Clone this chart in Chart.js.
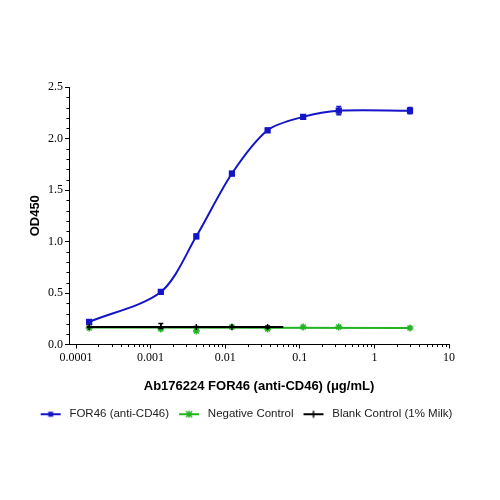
<!DOCTYPE html>
<html>
<head>
<meta charset="utf-8">
<script src="https://cdn.jsdelivr.net/npm/chart.js@4"></script>
<style>
  body { margin: 0; background: #fff; }
  #wrap { width: 500px; height: 500px; }
</style>
</head>
<body>
<div id="wrap"><canvas id="odChart"></canvas></div>
<script>
// Values
const conc = [0.00015, 0.00137, 0.0041, 0.0123, 0.037, 0.111, 0.333, 3];
const for46 = [0.22, 0.51, 1.05, 1.66, 2.08, 2.21, 2.27, 2.27];
const for46Err = [0.01, 0.01, 0.02, 0.02, 0.02, 0.02, 0.04, 0.03];
const negCtrl = [0.16, 0.15, 0.13, 0.17, 0.15, 0.17, 0.17, 0.16];
const negFitConc = [0.00015, 3];
const negFit = [0.165, 0.16];
const blankConc = [0.00015, 0.00137, 0.0041, 0.0123, 0.037];
const blankCtrl = [0.17, 0.18, 0.17, 0.17, 0.17];
const blankErr = [0.005, 0.025, 0.005, 0.005, 0.01];
const blankFitConc = [0.00015, 0.06];
const blankFit = [0.17, 0.17];
const xTicks = [0.0001, 0.001, 0.01, 0.1, 1, 10];
const yTicks = [0, 0.5, 1.0, 1.5, 2.0, 2.5];

const BLUE = '#1414c8';
const GREEN = '#22b422';
const BLACK = '#000000';

const pts = (xs, ys) => xs.map((x, i) => ({ x: x, y: ys[i] }));

// legend swatch: short line with marker in the middle
function swatch(color, style) {
    const c = document.createElement('canvas');
    c.width = 22; c.height = 10;
    const g = c.getContext('2d');
    g.strokeStyle = color; g.fillStyle = color; g.lineWidth = 2;
    g.beginPath(); g.moveTo(1, 5); g.lineTo(21, 5); g.stroke();
    g.lineWidth = 1.5;
    if (style === 'rect') {
        g.fillRect(8.5, 2.5, 5, 5);
    } else if (style === 'star') {
        g.beginPath();
        g.moveTo(8, 2); g.lineTo(14, 8); g.moveTo(14, 2); g.lineTo(8, 8);
        g.moveTo(11, 1.5); g.lineTo(11, 8.5);
        g.stroke();
    } else {
        g.beginPath(); g.moveTo(11, 1.5); g.lineTo(11, 8.5); g.stroke();
    }
    return c;
}

// short minor ticks on both axes
const minorTicks = {
    id: 'minorTicks',
    afterDraw(chart) {
        const ctx = chart.ctx;
        const x = chart.scales.x, y = chart.scales.y;
        ctx.save();
        ctx.strokeStyle = '#000';
        ctx.lineWidth = 1;
        ctx.beginPath();
        for (let d = -4; d < 1; d++) {
            for (let m = 2; m < 10; m++) {
                const px = Math.round(x.getPixelForValue(m * Math.pow(10, d))) + 0.5;
                ctx.moveTo(px, x.top); ctx.lineTo(px, x.top + 2.5);
            }
        }
        for (let k = 1; k < 25; k++) {
            if (k % 5 === 0) continue;
            const py = Math.round(y.getPixelForValue(k / 10)) + 0.5;
            ctx.moveTo(y.right, py); ctx.lineTo(y.right - 2.5, py);
        }
        ctx.stroke();
        ctx.restore();
    }
};

// error bars from the errors arrays
const errorBars = {
    id: 'errorBars',
    afterDatasetsDraw(chart) {
        const ctx = chart.ctx;
        const y = chart.scales.y;
        ctx.save();
        chart.data.datasets.forEach((ds, i) => {
            if (!ds.errors) return;
            const meta = chart.getDatasetMeta(i);
            ctx.strokeStyle = ds.borderColor;
            ctx.lineWidth = 1.5;
            meta.data.forEach((p, j) => {
                const v = ds.data[j].y, e = ds.errors[j];
                const top = y.getPixelForValue(v + e);
                const bot = y.getPixelForValue(v - e);
                ctx.beginPath();
                ctx.moveTo(p.x, top); ctx.lineTo(p.x, bot);
                ctx.moveTo(p.x - 2.5, top); ctx.lineTo(p.x + 2.5, top);
                ctx.moveTo(p.x - 2.5, bot); ctx.lineTo(p.x + 2.5, bot);
                ctx.stroke();
            });
        });
        ctx.restore();
    }
};

const ctx = document.getElementById('odChart').getContext('2d');
new Chart(ctx, {
    type: 'scatter',
    data: {
        datasets: [
            {
                label: 'FOR46 (anti-CD46)',
                data: pts(conc, for46),
                errors: for46Err,
                showLine: true,
                tension: 0.3,
                borderColor: BLUE,
                backgroundColor: BLUE,
                borderWidth: 2,
                pointStyle: 'rect',
                pointRadius: 3,
                order: 2
            },
            {
                label: 'Negative Control',
                data: pts(conc, negCtrl),
                showLine: false,
                borderColor: GREEN,
                backgroundColor: GREEN,
                borderWidth: 1.5,
                pointStyle: 'star',
                pointRadius: 3.5,
                order: 1
            },
            {
                label: '',
                data: pts(negFitConc, negFit),
                showLine: true,
                borderColor: GREEN,
                borderWidth: 2,
                pointRadius: 0,
                order: 1
            },
            {
                label: 'Blank Control (1% Milk)',
                data: pts(blankConc, blankCtrl),
                errors: blankErr,
                showLine: false,
                borderColor: BLACK,
                backgroundColor: BLACK,
                borderWidth: 1.5,
                pointStyle: 'line',
                rotation: 90,
                pointRadius: 3,
                order: 0
            },
            {
                label: '',
                data: pts(blankFitConc, blankFit),
                showLine: true,
                borderColor: BLACK,
                borderWidth: 2,
                pointRadius: 0,
                order: 0
            }
        ]
    },
    options: {
        responsive: true,
        maintainAspectRatio: false,
        animation: false,
        layout: { padding: { left: 0, right: 10, top: 87, bottom: 70 } },
        scales: {
            x: {
                type: 'logarithmic',
                min: 0.0000805,
                max: 10,
                afterBuildTicks: scale => { scale.ticks = xTicks.map(v => ({ value: v })); },
                afterFit: scale => { scale.height = 57; },
                grid: { drawOnChartArea: false, tickLength: 4, color: '#000' },
                border: { display: true, color: '#000', width: 1 },
                ticks: {
                    autoSkip: false,
                    maxRotation: 0,
                    padding: 2,
                    color: '#000',
                    font: { family: 'Liberation Serif', size: 12 },
                    callback: v => String(v)
                },
                title: {
                    display: true,
                    text: 'Ab176224 FOR46 (anti-CD46) (μg/mL)',
                    color: '#000',
                    font: { family: 'Liberation Sans', size: 13, weight: 'bold' },
                    padding: { top: 0, bottom: 7 }
                }
            },
            y: {
                min: 0,
                max: 2.5,
                afterBuildTicks: scale => { scale.ticks = yTicks.map(v => ({ value: v })); },
                afterFit: scale => { scale.width = 69; },
                grid: { drawOnChartArea: false, tickLength: 4, color: '#000' },
                border: { display: true, color: '#000', width: 1 },
                ticks: {
                    padding: 2,
                    color: '#000',
                    font: { family: 'Liberation Serif', size: 12 },
                    callback: v => Number(v).toFixed(1)
                },
                title: {
                    display: true,
                    text: 'OD450',
                    color: '#000',
                    font: { family: 'Liberation Sans', size: 13, weight: 'bold' },
                    padding: { top: 28, bottom: 0 }
                }
            },
            // empty right-hand spacer so the legend can use the full width
            spacer: {
                position: 'right',
                display: true,
                afterFit: scale => { scale.width = 41; },
                grid: { display: false, drawTicks: false },
                border: { display: false },
                ticks: { display: false }
            }
        },
        plugins: {
            tooltip: { enabled: false },
            legend: {
                position: 'bottom',
                labels: {
                    usePointStyle: true,
                    pointStyleWidth: 26,
                    padding: 7,
                    color: '#222',
                    font: { family: 'Liberation Sans', size: 11.5 },
                    generateLabels: chart => [
                        { text: 'FOR46 (anti-CD46)', pointStyle: swatch(BLUE, 'rect'), fontColor: '#222', datasetIndex: 0 },
                        { text: 'Negative Control', pointStyle: swatch(GREEN, 'star'), fontColor: '#222', datasetIndex: 1 },
                        { text: 'Blank Control (1% Milk)', pointStyle: swatch(BLACK, 'plus'), fontColor: '#222', datasetIndex: 3 }
                    ]
                }
            }
        }
    },
    plugins: [minorTicks, errorBars]
});
</script>
</body>
</html>
